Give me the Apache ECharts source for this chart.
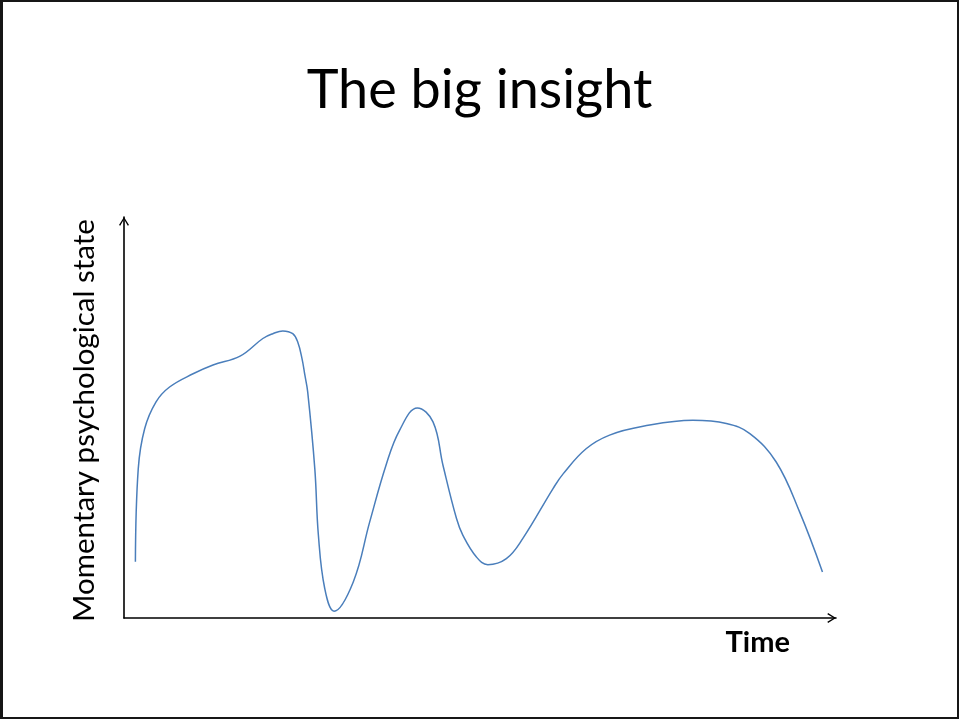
<!DOCTYPE html>
<html>
<head>
<meta charset="utf-8">
<script src="https://cdn.jsdelivr.net/npm/echarts@6/dist/echarts.min.js"></script>
<style>
  html, body { margin: 0; padding: 0; background: #fff; }
  #frame {
    width: 959px; height: 719px; box-sizing: border-box;
    border-style: solid; border-color: #161616;
    border-width: 2px 2px 2px 3px;
    position: relative;
  }
  #chart { position: absolute; left: -3px; top: -2px; width: 959px; height: 719px; }
</style>
</head>
<body>
<div id="frame"><div id="chart"></div></div>
<script>
// Time (0–100) along the horizontal axis
const timeValues = [
  1.6, 2.0, 2.9, 4.5, 6.4, 9.7, 12.5, 16.3, 19.5, 20.9, 22.3, 23.7, 24.4, 25.0,
  25.4, 25.8, 26.8, 27.3, 28.2, 29.5, 32.2, 34.5, 36.8, 38.7, 41.2, 43.4,
  44.8, 46.7, 47.6, 49.5, 51.1, 53.7, 56.0, 60.3, 61.7, 64.9, 68.2, 72.9, 79.9,
  84.6, 87.9, 91.6, 94.9, 98.1
];
// Momentary psychological state (0–100) at each time
const stateValues = [
  14.0, 37.2, 47.2, 53.9, 57.6, 60.9, 63.1, 65.3, 69.7, 70.9, 71.6, 70.9, 68.8, 64.7,
  60.6, 56.4, 37.2, 20.7, 7.3, 1.7, 9.0, 23.9, 38.1, 46.8, 52.4, 48.9,
  38.1, 24.8, 20.6, 15.2, 13.3, 14.8, 19.8, 32.4, 36.0, 42.2, 45.6, 47.8, 49.3,
  48.5, 46.0, 38.9, 26.4, 11.5
];

const titleText = 'The big insight';
const xAxisName = 'Time';
const yAxisName = 'Momentary psychological state';

const FONT = 'Lato, "Open Sans", "Noto Sans", sans-serif';
// open chevron arrowhead used at the end of both axes
const chevron = 'path://M0,8 L5,0 L10,8 L8.8,8.7 L5,2.4 L1.2,8.7 Z';

const points = timeValues.map((t, i) => [t, stateValues[i]]);

const chart = echarts.init(document.getElementById('chart'), null, { renderer: 'canvas' });

const axisLine = {
  show: true,
  symbol: ['none', chevron],
  symbolSize: [10, 8.7],
  symbolOffset: [0, -4.3],
  lineStyle: { color: '#000', width: 1.6 }
};

chart.setOption({
  backgroundColor: 'transparent',
  animation: false,
  title: {
    text: titleText,
    left: 'center',
    top: 59,
    textStyle: { fontFamily: FONT, fontWeight: 'normal', fontSize: 54, color: '#000' }
  },
  grid: { left: 124, right: 123, top: 217, bottom: 101 },
  xAxis: {
    type: 'value',
    min: 0, max: 100,
    axisLine: axisLine,
    axisTick: { show: false },
    axisLabel: { show: false },
    splitLine: { show: false },
    name: xAxisName,
    nameLocation: 'end',
    nameGap: -46,
    nameTextStyle: {
      fontFamily: FONT, fontWeight: 'bold', fontSize: 29, color: '#000',
      align: 'right', verticalAlign: 'top', padding: [10, 0, 0, 0]
    }
  },
  yAxis: {
    type: 'value',
    min: 0, max: 100,
    axisLine: axisLine,
    axisTick: { show: false },
    axisLabel: { show: false },
    splitLine: { show: false },
    name: yAxisName,
    nameLocation: 'middle',
    nameRotate: 90,
    nameGap: 25,
    nameTextStyle: { fontFamily: FONT, fontSize: 29.5, color: '#000', padding: [0, 6, 0, 0] }
  },
  series: [{
    type: 'line',
    data: points,
    smooth: 0.4,
    symbol: 'none',
    lineStyle: { color: '#4a7ebb', width: 1.5 }
  }]
});
</script>
</body>
</html>
